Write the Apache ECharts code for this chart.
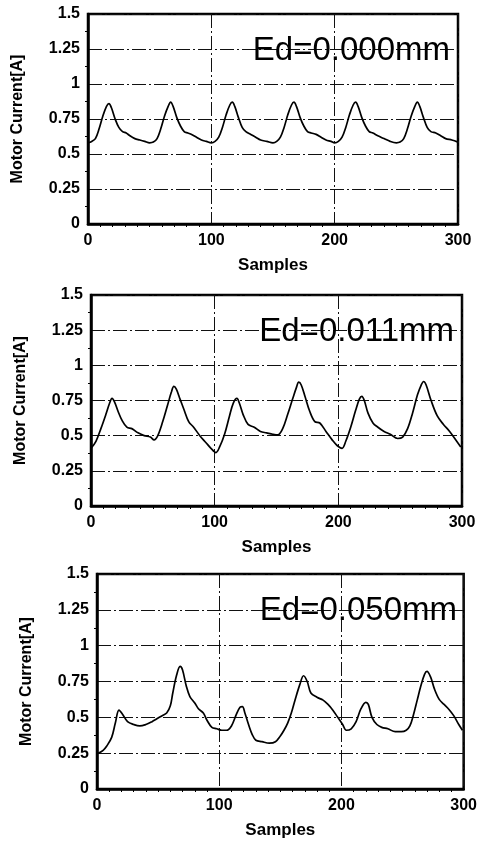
<!DOCTYPE html>
<html><head><meta charset="utf-8">
<script src="https://cdn.jsdelivr.net/npm/echarts@6/dist/echarts.min.js"></script>
<style>html,body{margin:0;padding:0;background:#fff}#c{width:480px;height:843px}</style>
</head><body><div id="c"></div>
<script>
const xTicks = [0, 100, 200, 300];
const yTicks = [0, 0.25, 0.5, 0.75, 1, 1.25, 1.5];
const labels = ['Ed=0.000mm', 'Ed=0.011mm', 'Ed=0.050mm'];
const xName = 'Samples';
const yName = 'Motor Current[A]';

const x1 = [0,3,6,9,12,15,17,19,22,25,28,31,34,38,42,46,50,53,56,59,62,65,67,69,72,75,78,81,84,88,92,96,100,103,106,109,112,115,117,119,122,125,128,132,136,140,145,150,153,156,159,162,165,167,169,172,175,178,181,185,189,193,197,200,203,206,209,212,215,217,219,222,225,228,231,235,240,245,250,253,256,259,262,265,267,269,272,275,278,282,286,290,295,300];
const y1 = [0.58,0.59,0.61,0.68,0.77,0.84,0.86,0.83,0.75,0.69,0.66,0.65,0.63,0.61,0.60,0.59,0.58,0.585,0.61,0.68,0.77,0.84,0.87,0.84,0.76,0.70,0.66,0.65,0.64,0.62,0.60,0.59,0.58,0.59,0.62,0.69,0.78,0.85,0.87,0.84,0.76,0.69,0.66,0.64,0.62,0.60,0.59,0.58,0.59,0.62,0.69,0.78,0.85,0.87,0.84,0.76,0.70,0.66,0.65,0.64,0.62,0.60,0.59,0.58,0.59,0.62,0.69,0.78,0.85,0.87,0.84,0.76,0.70,0.66,0.65,0.63,0.61,0.59,0.58,0.585,0.61,0.68,0.77,0.84,0.87,0.84,0.76,0.69,0.66,0.65,0.63,0.61,0.60,0.585];

const x2 = [0,4,8,12,15,17,19,22,25,29,33,38,43,48,51,54,58,62,65,67,69,72,75,79,83,88,93,97,101,104,108,112,115,118,120,123,127,132,137,142,147,151,155,159,163,166,168,170,173,177,181,185,190,195,199,203,206,210,214,217,219,221,224,228,232,237,242,248,252,256,260,264,267,269,271,275,280,285,290,295,299];
const y2 = [0.41,0.46,0.55,0.65,0.73,0.765,0.74,0.67,0.61,0.56,0.55,0.52,0.50,0.49,0.47,0.50,0.60,0.72,0.81,0.85,0.83,0.76,0.69,0.60,0.56,0.50,0.45,0.41,0.38,0.42,0.51,0.64,0.73,0.765,0.73,0.65,0.58,0.56,0.53,0.52,0.51,0.505,0.55,0.65,0.76,0.84,0.88,0.86,0.78,0.67,0.60,0.59,0.53,0.47,0.43,0.41,0.46,0.56,0.68,0.76,0.78,0.75,0.66,0.59,0.56,0.53,0.51,0.48,0.49,0.55,0.66,0.79,0.86,0.885,0.86,0.75,0.64,0.58,0.53,0.47,0.42];

const x3 = [1,5,8,12,15,18,21,25,30,35,40,45,49,53,57,60,62,65,68,70,73,76,80,83,87,90,94,98,102,106,110,114,117,119,121,124,127,130,135,141,146,150,153,156,159,162,166,169,172,175,180,185,189,193,197,201,204,208,212,216,220,222,225,229,233,238,244,249,253,256,259,262,265,268,270,273,276,280,284,288,292,296,299];
const y3 = [0.25,0.27,0.30,0.36,0.46,0.55,0.52,0.47,0.45,0.44,0.45,0.47,0.49,0.51,0.53,0.58,0.67,0.79,0.855,0.83,0.72,0.645,0.60,0.56,0.53,0.48,0.43,0.42,0.41,0.41,0.44,0.52,0.57,0.575,0.53,0.45,0.38,0.34,0.33,0.32,0.33,0.37,0.41,0.46,0.53,0.62,0.73,0.79,0.75,0.67,0.64,0.62,0.59,0.55,0.50,0.45,0.41,0.42,0.47,0.56,0.605,0.59,0.50,0.45,0.43,0.42,0.40,0.40,0.41,0.44,0.52,0.62,0.72,0.80,0.82,0.78,0.70,0.625,0.59,0.555,0.51,0.45,0.41];

const panels = [
  {x: x1, y: y1, grid: {left: 88, top: 14, width: 370, height: 210}, label: labels[0]},
  {x: x2, y: y2, grid: {left: 91, top: 295, width: 371, height: 211}, label: labels[1]},
  {x: x3, y: y3, grid: {left: 97, top: 574, width: 368, height: 215}, label: labels[2]}
];

const FONT = "'Liberation Sans', Arial, sans-serif";
const gridLine = {show: true, lineStyle: {color: '#111', width: 1, type: [14, 3, 2, 3]}};

const option = {
  animation: false,
  backgroundColor: '#fff',
  grid: panels.map(p => Object.assign({show: true, borderColor: '#000', borderWidth: 2.5, backgroundColor: 'transparent'}, p.grid)),
  title: panels.map(p => ({
    text: p.label,
    right: 480 - (p.grid.left + p.grid.width) + 3,
    top: p.grid.top + 15,
    textStyle: {fontFamily: FONT, fontSize: 33, fontWeight: 'normal', color: '#000'}
  })),
  xAxis: panels.map((p, i) => ({
    type: 'value', gridIndex: i,
    min: xTicks[0], max: xTicks[xTicks.length - 1], interval: xTicks[1] - xTicks[0],
    name: xName, nameLocation: 'middle', nameGap: 33,
    nameTextStyle: {fontFamily: FONT, fontWeight: 'bold', fontSize: 17, color: '#000'},
    axisLine: {show: true, lineStyle: {color: '#000', width: 2.5}},
    axisTick: {show: false},
    minorTick: {show: true, splitNumber: 10, length: 3, lineStyle: {color: '#000', width: 1}},
    axisLabel: {fontFamily: FONT, fontWeight: 'bold', fontSize: 16, color: '#000', margin: 9},
    splitLine: gridLine
  })),
  yAxis: panels.map((p, i) => ({
    type: 'value', gridIndex: i,
    min: yTicks[0], max: yTicks[yTicks.length - 1], interval: yTicks[1] - yTicks[0],
    name: yName, nameLocation: 'middle', nameGap: 62,
    nameTextStyle: {fontFamily: FONT, fontWeight: 'bold', fontSize: 16, color: '#000'},
    axisLine: {show: true, lineStyle: {color: '#000', width: 2.5}},
    axisTick: {show: false},
    minorTick: {show: true, splitNumber: 2, length: 3, lineStyle: {color: '#000', width: 1}},
    axisLabel: {fontFamily: FONT, fontWeight: 'bold', fontSize: 16, color: '#000', margin: 8},
    splitLine: gridLine
  })),
  series: panels.map((p, i) => ({
    type: 'line', xAxisIndex: i, yAxisIndex: i,
    data: p.x.map((v, k) => [v, p.y[k]]),
    showSymbol: false, smooth: 0.35,
    lineStyle: {color: '#000', width: 1.7}
  }))
};

const chart = echarts.init(document.getElementById('c'), null, {renderer: 'canvas'});
chart.setOption(option);
</script></body></html>
